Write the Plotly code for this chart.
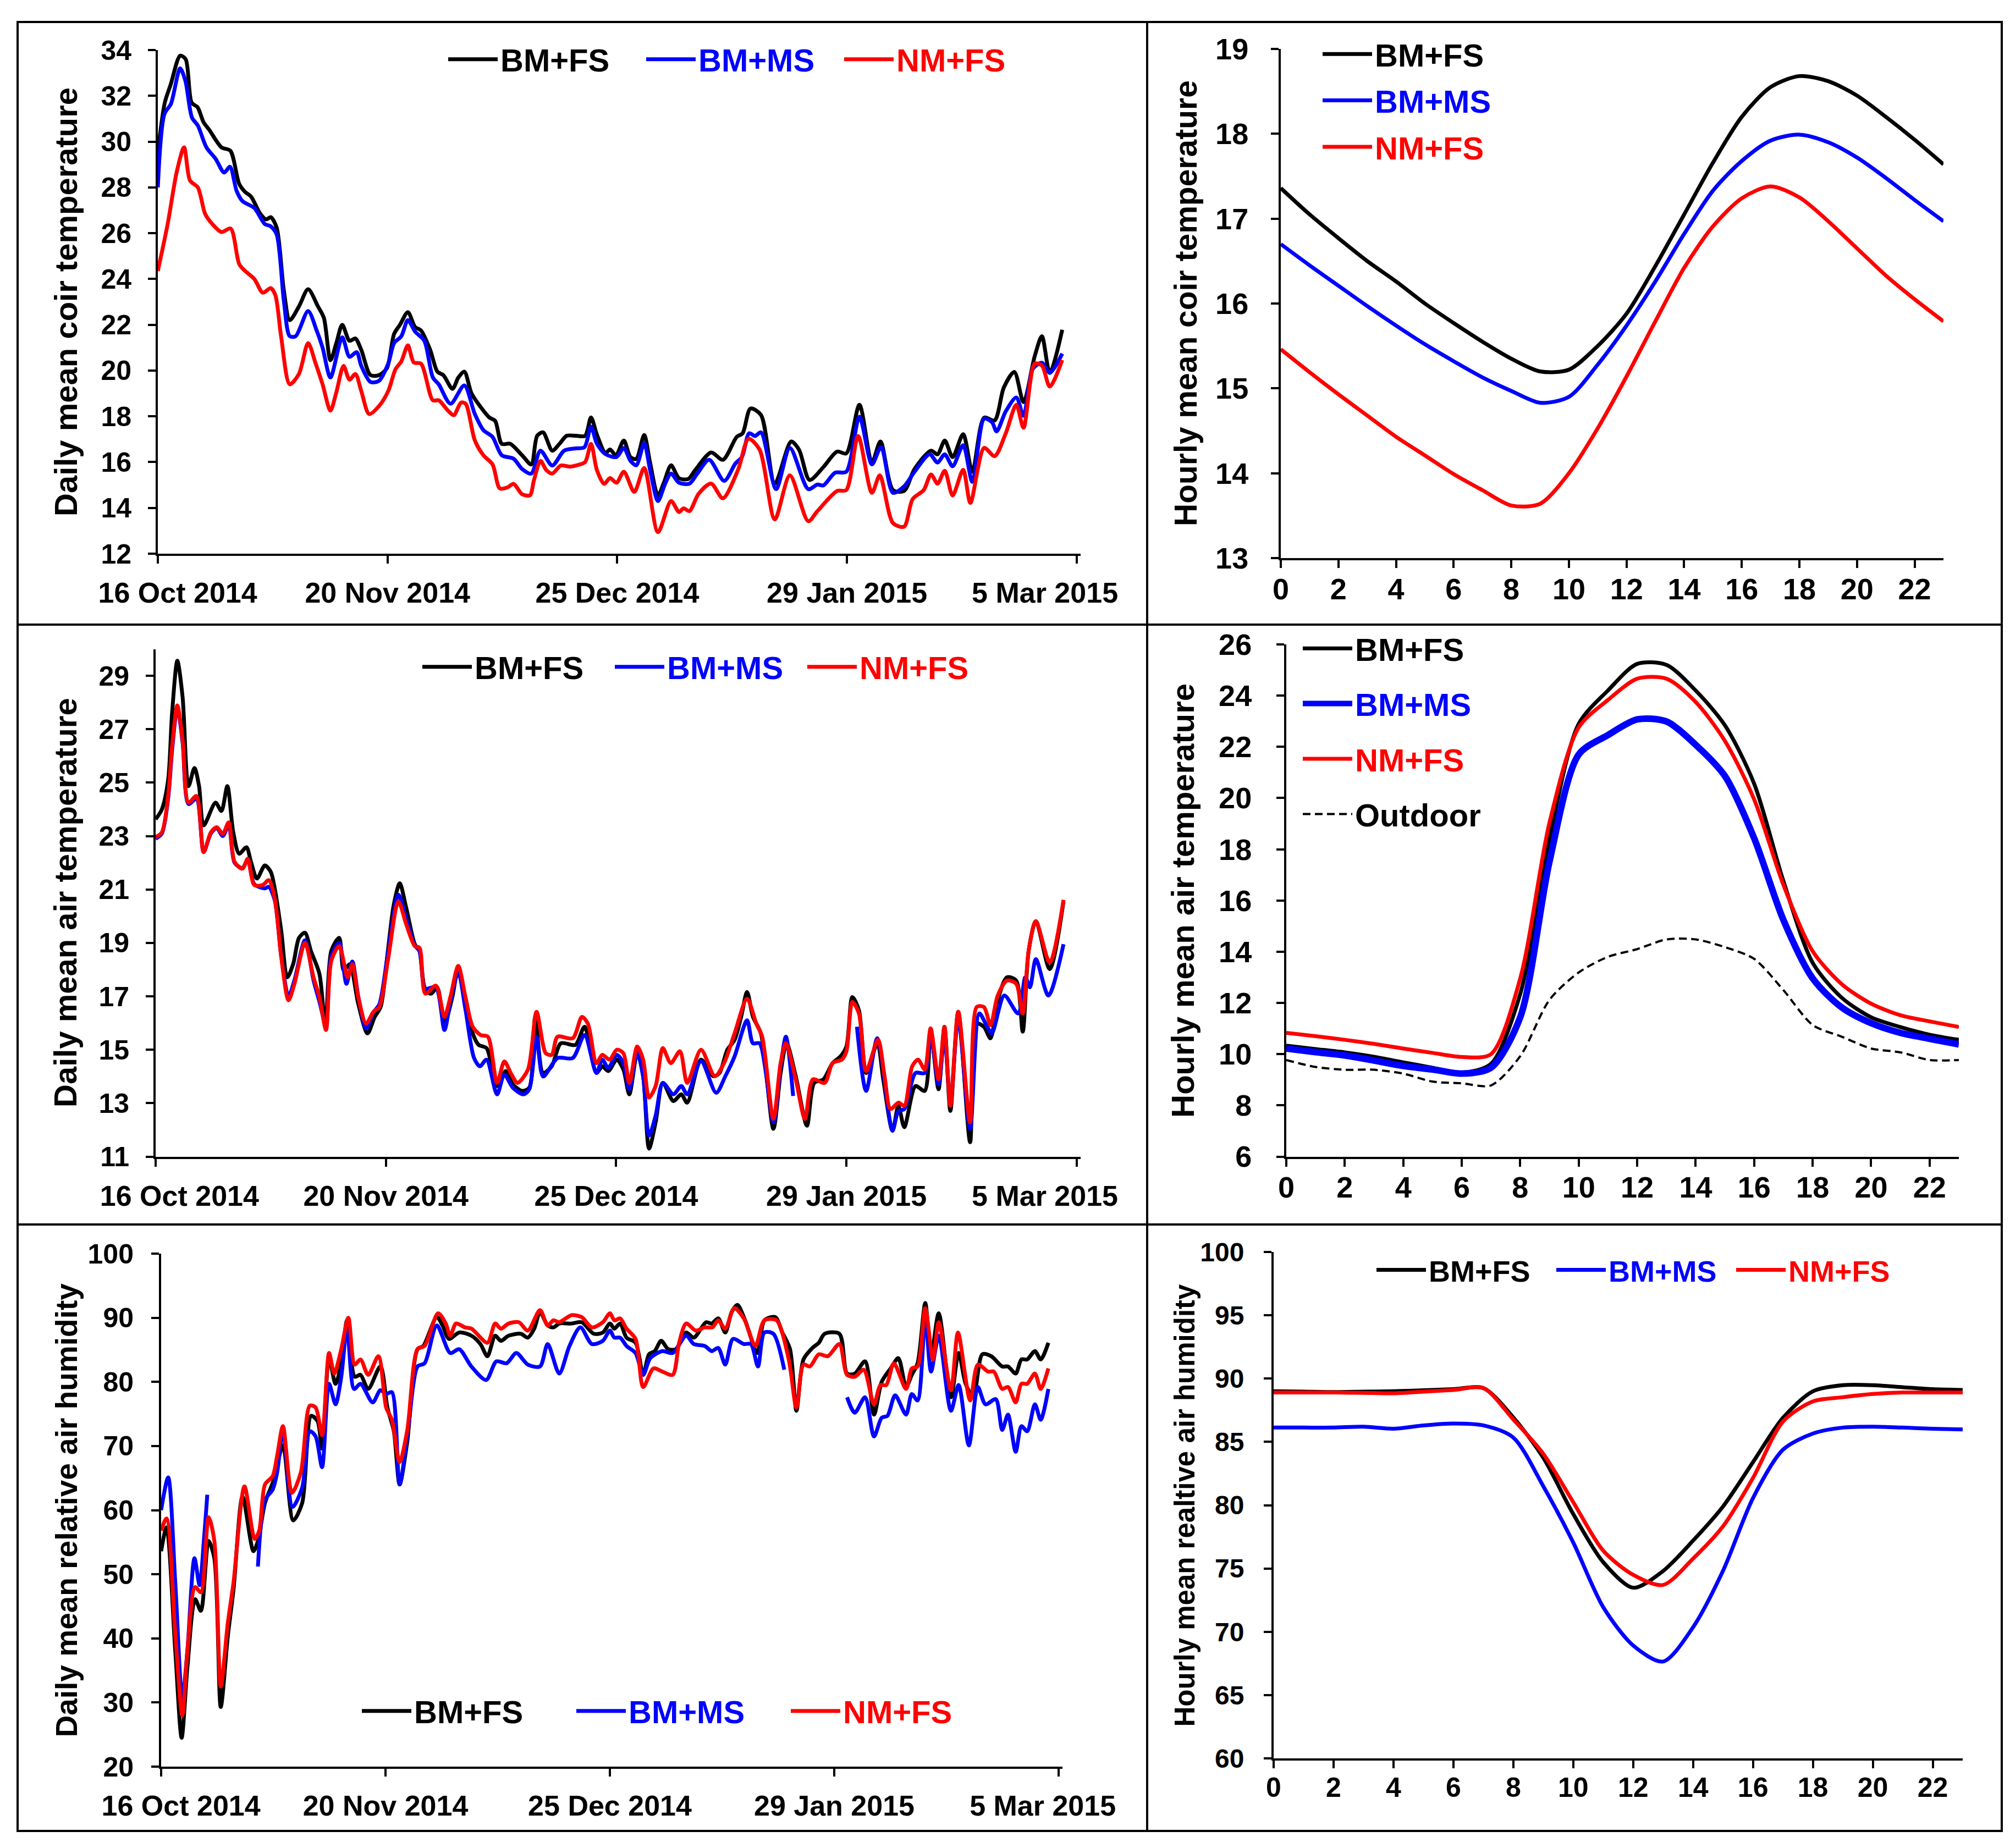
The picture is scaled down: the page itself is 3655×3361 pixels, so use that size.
import plotly.graph_objects as go
import pandas as pd

W, H = 3655, 3361
FONT = "Liberation Sans, Arial, Helvetica, sans-serif"
BLACK, BLUE, RED = "#000000", "#0000FF", "#FF0000"
NB = "\u00a0"

# ---------------- tick labels / categories ----------------
START_DATE = "2014-10-16"
date_tick_vals = ["2014-10-16", "2014-11-20", "2014-12-25", "2015-01-29", "2015-03-05"]
date_tick_text = ["16 Oct 2014", "20 Nov 2014", "25 Dec 2014", "29 Jan 2015", "5 Mar 2015"]
hours = list(range(24))
hour_tick_vals = list(range(0, 23, 2))
names = ["BM+FS", "BM+MS", "NM+FS"]

# ---------------- daily mean coir temperature (day offset from 16 Oct 2014) ----------------
coir_bmfs_days = [0, 1.06, 1.97, 3.4, 4.24, 5.15, 6.06, 6.96, 7.87, 9.69, 11.05, 12.4, 13.3, 14.2, 15.6, 16.5, 17.2, 18.1, 19.2, 20.1, 21.5, 22.9, 24.4, 25.3, 26.3, 27.2, 28.1, 29.2, 30.1, 31.0, 32.4, 33.7, 34.9, 36.0, 36.9, 38.1, 39.2, 40.1, 41.5, 42.6, 43.5, 44.9, 45.8, 46.7, 47.8, 49.2, 50.5, 51.4, 52.4, 53.7, 55.5, 56.9, 57.8, 58.7, 60.1, 61.2, 62.3, 63.7, 65.1, 66.0, 66.9, 68.2, 68.9, 69.8, 71, 72, 72.9, 74.1, 75, 76.2, 77.1, 78.2, 79.4, 80.8, 81.9, 84.3, 86.1, 88.2, 89.1, 90.3, 91.9, 94, 96.5, 97.7, 99.3, 101.4, 103.5, 104.9, 106.9, 108.8, 110.1, 112, 113.7, 115.3, 117.8, 118.8, 119.9, 121.1, 122.7, 124.1, 125.9, 127.5, 128.9, 130.5, 131.9, 133.6, 134.7, 135.9, 137.8]
coir_bmfs = [29.5, 31.7, 32.5, 33.75, 33.6, 31.7, 31.5, 30.85, 30.5, 29.75, 29.6, 28.15, 27.8, 27.6, 26.85, 26.6, 26.7, 26.25, 23.5, 22.2, 22.8, 23.55, 22.8, 22.3, 20.45, 21.2, 22.0, 21.3, 21.4, 20.9, 19.8, 19.8, 20.1, 21.6, 22.0, 22.55, 21.9, 21.75, 20.9, 19.95, 19.8, 19.2, 19.7, 19.95, 19.0, 18.4, 17.95, 17.8, 16.8, 16.8, 16.3, 15.9, 17.15, 17.3, 16.5, 16.8, 17.15, 17.15, 17.15, 17.95, 17.2, 16.4, 16.55, 16.3, 16.94, 16.22, 16.14, 17.18, 15.98, 14.54, 15.1, 15.86, 15.3, 15.26, 15.66, 16.42, 16.1, 17.1, 17.26, 18.34, 18.06, 15.06, 16.9, 16.54, 15.22, 15.78, 16.46, 16.38, 18.5, 15.98, 16.9, 14.78, 14.74, 15.7, 16.5, 16.34, 16.94, 16.22, 17.22, 15.58, 17.94, 17.82, 19.26, 19.94, 18.62, 20.62, 21.5, 19.9, 21.78]

coir_bmms_days = [0, 1, 2, 3.4, 4.2, 5.2, 6.1, 7.4, 8.8, 10.1, 11, 12, 12.9, 14.7, 16.3, 17.2, 18.1, 19.2, 20.1, 21, 22.9, 24.2, 25.1, 26.3, 28.1, 29.2, 30.3, 31, 32.4, 33.7, 35.1, 36, 37.1, 38.1, 39.2, 40.6, 41.9, 42.8, 44.6, 46.7, 48.3, 49.6, 51, 52.4, 54.2, 55.5, 56.9, 58.3, 60.1, 61.9, 63.7, 65, 66, 66.9, 68.2, 69.9, 71, 72, 72.9, 74.1, 75, 76.2, 77.3, 78.2, 79.4, 81, 82.2, 84, 86.3, 88, 89, 90.1, 91, 91.9, 94.2, 96.3, 99.1, 100.5, 101.4, 103.2, 104.9, 106.9, 108.8, 110.2, 112, 113.7, 115.3, 117.6, 118.8, 119.9, 121.1, 122.7, 124.1, 125.9, 127.1, 127.8, 129.2, 130.8, 131.9, 133.3, 134.7, 135.9, 137.8]
coir_bmms = [28.0, 31.2, 31.65, 33.2, 32.65, 31.05, 30.7, 29.75, 29.25, 28.65, 28.9, 27.85, 27.4, 27.1, 26.4, 26.3, 25.95, 23.05, 21.5, 21.5, 22.6, 21.75, 21.0, 19.7, 21.45, 20.6, 20.8, 20.2, 19.5, 19.55, 20.3, 21.2, 21.5, 22.2, 21.7, 21.3, 19.7, 19.4, 18.55, 19.35, 18.1, 17.4, 17.1, 16.3, 16.15, 15.7, 15.5, 16.5, 15.85, 16.5, 16.6, 16.65, 17.55, 16.8, 16.35, 16.22, 16.62, 16.06, 15.86, 16.82, 15.66, 14.3, 15.06, 15.5, 15.1, 15.06, 15.5, 16.1, 15.18, 15.94, 16.22, 17.26, 17.14, 17.3, 14.82, 16.62, 14.82, 15.02, 14.98, 15.54, 15.58, 17.98, 15.9, 16.66, 14.66, 14.94, 15.58, 16.34, 15.98, 16.34, 15.82, 16.74, 15.14, 17.9, 17.74, 17.34, 18.22, 18.82, 18.02, 20.06, 20.34, 19.9, 20.74]

coir_nmfs_days = [0, 1.5, 2.9, 4, 4.9, 6.1, 7.2, 8.3, 9.7, 11.1, 12.4, 13.3, 14.7, 16, 17.2, 17.9, 18.8, 20.1, 21.5, 22.9, 24, 25.1, 26.3, 27.2, 28.3, 29.2, 30.1, 31, 32.2, 33.7, 35.1, 36.2, 37.1, 38.1, 39, 40.1, 41.9, 42.8, 44.2, 45.1, 46.2, 46.9, 48.3, 49.6, 51, 52.1, 53.3, 54.2, 55.5, 56.7, 57.3, 58.3, 59.2, 60.1, 61.4, 62.8, 63.7, 65.1, 66, 66.9, 68, 68.9, 69.9, 71, 72.6, 74.1, 76.2, 78.2, 79.4, 80.1, 81, 82.4, 84.3, 86.1, 88.4, 90, 91.7, 94, 96.3, 99.1, 100.5, 103.5, 104.9, 106.7, 108.8, 110, 112, 113.7, 115, 116.7, 117.8, 118.8, 119.9, 121.1, 122.7, 123.8, 125.9, 127.5, 129.2, 130.8, 131.9, 133.6, 134.7, 135.9, 137.8]
coir_nmfs = [24.35, 26.4, 28.7, 29.75, 28.3, 28.0, 26.85, 26.4, 26.05, 26.2, 24.65, 24.35, 24.0, 23.4, 23.6, 23.3, 21.45, 19.4, 19.85, 21.2, 20.35, 19.4, 18.25, 19.05, 20.2, 19.6, 19.85, 19.1, 18.1, 18.45, 19.1, 20.05, 20.4, 21.1, 20.35, 20.3, 18.7, 18.7, 18.25, 18.05, 18.6, 18.55, 16.95, 16.3, 15.9, 14.85, 14.9, 15.05, 14.6, 14.55, 15.2, 16.05, 15.65, 15.5, 15.85, 15.8, 15.85, 16.0, 16.8, 15.65, 15.05, 15.3, 15.1, 15.58, 14.7, 15.74, 12.94, 14.3, 13.82, 13.98, 13.86, 14.62, 15.06, 14.42, 15.66, 17.02, 16.54, 13.5, 15.42, 13.42, 13.86, 14.74, 14.78, 17.14, 14.66, 15.42, 13.34, 13.18, 14.38, 14.78, 15.46, 15.06, 15.62, 14.54, 15.66, 14.22, 16.62, 16.26, 17.26, 18.5, 17.5, 20.3, 20.22, 19.3, 20.46]

# ---------------- hourly mean coir temperature ----------------
coir_hour_bmfs = [17.36, 17.05, 16.77, 16.5, 16.26, 16.0, 15.77, 15.55, 15.35, 15.2, 15.22, 15.5, 15.88, 16.44, 17.05, 17.66, 18.2, 18.55, 18.68, 18.62, 18.45, 18.2, 17.93, 17.64]
coir_hour_bmms = [16.7, 16.45, 16.21, 15.97, 15.74, 15.52, 15.32, 15.13, 14.97, 14.83, 14.9, 15.28, 15.74, 16.26, 16.82, 17.33, 17.68, 17.92, 17.99, 17.9, 17.72, 17.48, 17.22, 16.97]
coir_hour_nmfs = [15.46, 15.19, 14.93, 14.68, 14.43, 14.21, 13.99, 13.8, 13.62, 13.64, 14.0, 14.53, 15.14, 15.79, 16.42, 16.91, 17.24, 17.38, 17.25, 16.97, 16.65, 16.33, 16.05, 15.79]

# ---------------- daily mean air temperature ----------------
air_bmfs_days = [0, 0.95, 1.9, 2.5, 3.3, 4.1, 5, 5.9, 6.6, 7.3, 9.1, 10, 10.9, 11.8, 12.7, 13.8, 14.5, 15.4, 16.6, 17.5, 18.1, 19.1, 20, 20.9, 21.8, 22.7, 23.6, 24.9, 25.8, 26.7, 27.9, 28.6, 29.5, 30.8, 32.2, 33.3, 34.2, 35.3, 36.2, 37.1, 38.1, 39.4, 40.1, 41, 41.9, 42.8, 43.9, 45.1, 46, 47.1, 48.2, 49.1, 50.3, 51.9, 53.2, 54.3, 55.7, 56.8, 57.7, 58.9, 60.2, 61.6, 63.8, 65.2, 67, 67.9, 68.8, 70.1, 71.1, 72, 73.2, 74.1, 75, 76, 77.1, 78.7, 79.9, 80.8, 82.9, 84.8, 85.7, 86.9, 88, 89, 89.9, 90.8, 92, 93.9, 95, 95.9, 97.3, 99, 100.1, 101.5, 102.9, 104.1, 105, 105.9, 106.9, 108, 109.7, 110.6, 112, 112.9, 113.8, 115.5, 116.9, 117.8, 119, 119.9, 120.8, 122, 123.8, 124.8, 125.9, 126.9, 128, 129.4, 130.8, 131.8, 132.7, 133.8, 135.9, 138]
air_bmfs = [23.63, 24.0, 25.1, 27.6, 29.56, 28.2, 24.87, 25.55, 24.87, 23.4, 24.25, 23.94, 24.87, 23.14, 22.34, 22.58, 22.03, 21.41, 21.9, 21.66, 21.04, 19.44, 17.71, 18.2, 19.19, 19.38, 18.7, 17.84, 15.86, 18.7, 19.19, 17.96, 18.2, 16.72, 15.61, 16.23, 16.6, 18.7, 20.43, 21.23, 20.3, 18.95, 18.7, 17.22, 17.1, 17.34, 15.99, 16.97, 18.08, 16.85, 15.61, 15.18, 15.06, 13.64, 14.2, 13.7, 13.46, 13.58, 16.23, 14.13, 14.38, 15.24, 15.18, 15.86, 14.13, 14.38, 14.2, 14.63, 14.26, 13.33, 14.87, 14.01, 11.3, 12.28, 13.76, 13.08, 13.33, 13.02, 14.63, 14.01, 14.13, 15.0, 15.37, 16.23, 17.16, 16.23, 15.61, 12.04, 14.13, 15.24, 14.01, 12.16, 13.76, 13.89, 14.5, 14.75, 15.12, 16.97, 16.48, 14.13, 15.24, 13.89, 11.97, 12.9, 12.1, 13.64, 13.46, 15.68, 13.52, 15.86, 12.71, 16.42, 11.54, 15.98, 15.86, 15.43, 16.85, 17.71, 17.59, 15.68, 18.7, 19.81, 18.02, 20.55]

air_bmms_days = [0, 0.95, 1.9, 2.5, 3.3, 4.1, 5, 6.2, 7.3, 8.4, 9.3, 10.2, 11.1, 12, 13.2, 14, 15, 16.6, 17.2, 18.1, 19.1, 20.2, 21.1, 22.7, 24, 24.9, 25.9, 26.7, 27.9, 29, 29.9, 30.8, 32, 33.1, 34, 35.3, 36.9, 38.1, 39.4, 40.1, 41, 42.6, 43.9, 44.8, 46, 47.1, 48.4, 49.3, 50.3, 51.9, 53, 54.3, 55.9, 56.8, 57.9, 58.9, 61.1, 63.4, 65.2, 67, 67.9, 68.8, 70.1, 71.1, 72, 73.2, 74.1, 75, 76, 77.1, 78.7, 79.9, 80.8, 82.9, 85.2, 86.6, 88, 89.9, 90.8, 91.8, 93.9, 95, 95.8, 96.9, None, 106.6, 108, 109.7, 112, 112.9, 113.8, 115.5, 116.9, 117.8, 119, 119.9, 120.8, 122, 123.8, 125.2, 126.4, 127.1, 129, 131.1, 132.2, 132.9, 133.8, 135.7, 138]
air_bmms = [22.9, 23.1, 24.4, 26.2, 27.8, 26.5, 24.2, 24.4, 22.4, 23.1, 23.3, 23.0, 23.4, 22.0, 21.8, 22.1, 21.2, 21.04, 21.1, 20.6, 18.5, 17.0, 17.6, 19.1, 17.6, 16.8, 15.9, 18.5, 19.0, 17.47, 18.3, 17.0, 15.8, 16.4, 16.7, 18.6, 20.8, 19.9, 18.9, 18.7, 17.3, 17.34, 15.74, 16.8, 17.9, 16.5, 14.69, 14.38, 14.63, 13.33, 14.07, 13.58, 13.33, 13.52, 15.49, 14.0, 14.69, 14.69, 15.55, 14.13, 14.63, 14.32, 14.81, 14.5, 13.52, 14.94, 14.01, 11.79, 12.53, 13.76, 13.33, 13.64, 13.33, 14.57, 13.39, 14.01, 14.75, 16.1, 15.24, 15.24, 12.28, 14.38, 15.49, 13.27, None, 15.86, 13.46, 15.43, 11.97, 12.7, 12.78, 14.13, 14.13, 15.61, 13.7, 15.49, 13.02, 16.17, 12.04, 16.36, 15.86, 15.61, 17.03, 16.36, 17.71, 17.34, 18.39, 17.03, 18.95]

air_nmfs_days = [0, 0.95, 1.9, 2.5, 3.3, 4.1, 5, 6.2, 7.3, 8.4, 9.3, 10.2, 11.1, 12, 13.2, 14, 15, 16.3, 17.2, 18.1, 19.1, 20.2, 21.1, 22.7, 24, 24.9, 25.9, 26.7, 27.9, 29.2, 29.9, 30.8, 32, 33.1, 34, 35.3, 36.9, 38.1, 39.4, 40.1, 41, 42.6, 43.9, 44.8, 46, 47.1, 48.2, 49.4, 50.5, 51.9, 53, 54.1, 55, 56.6, 57.9, 59.3, 60.2, 61.1, 63.4, 64.8, 65.7, 67, 67.9, 69, 70.1, 71.1, 72, 73.2, 74.1, 75, 76, 77.1, 78.3, 79.7, 80.8, 82.9, 85, 86.4, 88, 89.9, 91.3, 92.2, 93.9, 95, 95.8, 97.3, 98.7, 99.9, 101.7, 102.9, 104.3, 105, 105.9, 106.9, 108, 109.8, 110.8, 111.7, 112.9, 113.8, 115, 115.9, 116.9, 117.8, 119, 119.9, 120.8, 122, 123.8, 124.8, 125.9, 126.9, 128, 129.4, 130.8, 131.8, 132.7, 133.8, 135.9, 138]
air_nmfs = [22.96, 23.14, 24.5, 26.35, 27.89, 26.6, 24.25, 24.5, 22.4, 23.14, 23.33, 23.08, 23.51, 22.03, 21.78, 22.15, 21.17, 21.17, 21.35, 20.67, 18.45, 16.85, 17.47, 19.0, 17.71, 16.97, 15.74, 18.33, 18.88, 17.71, 18.2, 16.97, 15.98, 16.42, 16.6, 18.33, 20.55, 19.69, 18.88, 18.82, 17.1, 17.4, 16.23, 16.97, 18.14, 16.97, 15.86, 15.55, 15.49, 13.76, 14.56, 14.07, 13.76, 14.26, 16.42, 14.87, 14.81, 15.49, 15.43, 16.23, 15.98, 14.5, 14.81, 14.63, 15.0, 14.87, 13.76, 15.12, 14.63, 13.21, 13.64, 15.06, 14.5, 14.94, 13.76, 15.0, 14.01, 14.5, 15.61, 16.91, 15.98, 15.49, 12.41, 14.5, 15.24, 13.89, 12.41, 13.89, 13.76, 14.5, 14.63, 14.94, 16.79, 16.36, 14.2, 15.37, 14.01, 12.78, 13.02, 12.9, 14.38, 14.63, 14.26, 15.8, 13.89, 15.86, 12.9, 16.42, 12.28, 16.6, 16.6, 15.92, 17.03, 17.59, 17.47, 16.36, 18.7, 19.81, 18.27, 20.61]

# ---------------- hourly mean air temperature ----------------
air_hour_bmfs = [10.33, 10.2, 10.07, 9.9, 9.68, 9.47, 9.28, 9.62, 12.35, 18.43, 22.9, 24.2, 25.24, 25.2, 24.2, 22.84, 20.56, 16.76, 13.57, 12.2, 11.44, 11.06, 10.76, 10.56]
air_hour_bmms = [10.22, 10.08, 9.95, 9.75, 9.54, 9.4, 9.24, 9.47, 11.44, 17.52, 21.7, 22.46, 23.07, 22.99, 22.08, 20.86, 18.43, 15.24, 12.96, 11.82, 11.21, 10.83, 10.6, 10.38]
air_hour_nmfs = [10.83, 10.7, 10.56, 10.4, 10.22, 10.05, 9.89, 10.0, 12.96, 19.04, 22.76, 23.83, 24.66, 24.66, 23.75, 22.23, 19.95, 16.61, 14.02, 12.73, 11.97, 11.52, 11.28, 11.06]
air_hour_outdoor = [9.77, 9.5, 9.39, 9.39, 9.24, 8.93, 8.86, 8.78, 9.92, 12.12, 13.19, 13.8, 14.1, 14.48, 14.48, 14.18, 13.72, 12.5, 11.14, 10.68, 10.22, 10.07, 9.77, 9.77]

# ---------------- daily mean relative air humidity ----------------
rh_bmfs_days = [0, 0.84, 2.2, 3.2, 4.1, 5.3, 6.2, 7.4, 8.3, 9.3, 10.4, 11.3, 12.7, 14.4, 15.1, 16.2, 17.6, 19, 20.6, 22, 23.4, 24.4, 25.1, 26.2, 27.2, 28.1, 29, 30.2, 31.1, 32.3, 34.2, 35.3, 36.3, 37.2, 38.4, 40, 40.9, 43, 43.9, 44.9, 46.5, 48.4, 49.8, 50.9, 52.1, 53, 54.2, 56.1, 57.2, 58.2, 59.1, 60.3, 61.2, 62.1, 64, 65.6, 67.5, 68.9, 70, 70.7, 71.6, 72.6, 74, 75.2, 76.1, 77, 78, 79.1, 80.3, 81.9, 83.1, 85, 85.9, 86.9, 88, 89, 89.9, 91.1, 93, 94.1, 95.8, 96.9, 98.1, 99.1, 100.2, 101.6, 102.6, 103.5, 105.8, 107, 108.2, 109.8, 111.2, 112.4, 113.8, 115, 116.2, 117.1, 118, 119.2, 120.1, 121.3, 123.2, 124.4, 125.5, 126.7, 128.1, 129.5, 131.2, 132.1, 133.3, 134.2, 135.1, 136.3, 137.2, 138.4]
rh_bmfs = [53.6, 57.3, 38.1, 24.5, 35.5, 46.1, 44.3, 55.2, 52.5, 29.3, 40.3, 47.7, 62.1, 53.6, 55.2, 61.1, 64.8, 70.1, 58.4, 61.1, 74.7, 73.9, 69.6, 83.7, 79.7, 82.9, 89.6, 80.8, 81.1, 78.9, 82.4, 76.0, 72.3, 64.0, 70.7, 85.1, 85.6, 90.1, 88.8, 86.7, 87.7, 87.2, 85.9, 84.0, 87.2, 86.4, 87.2, 87.5, 86.9, 88.3, 90.9, 88.8, 88.5, 89.1, 89.1, 89.3, 87.5, 87.7, 89.1, 88.3, 89.1, 86.9, 86.1, 81.1, 84.3, 84.8, 86.4, 85.1, 85.1, 87.7, 86.9, 89.3, 89.1, 89.9, 87.7, 90.9, 92.0, 89.6, 84.5, 89.6, 90.1, 87.7, 85.1, 75.5, 83.5, 85.3, 86.1, 87.5, 87.5, 81.3, 81.3, 83.2, 74.9, 80.0, 82.1, 83.7, 79.2, 81.1, 82.9, 92.3, 84.0, 90.7, 77.6, 84.5, 79.7, 77.6, 84.3, 84.0, 82.4, 82.4, 81.3, 83.5, 83.5, 84.8, 83.5, 86.1]

rh_bmms_days = [0, 1.1, 2.2, 3.3, 4.1, 5.2, 6, 6.7, 7.2, None, 15.1, 16.2, 17.4, 18.1, 19, 20.5, 22, 23.2, 24.1, 25.1, 26.2, 27.2, 28.1, 29, 30.1, 31.1, 33, 34.2, 35.1, 36, 37.2, 38.6, 40, 41.1, 43, 45.1, 46.5, 48.4, 50.7, 52.3, 53.9, 55.4, 57.2, 59.1, 60.3, 62.1, 63.7, 65.4, 67.2, 68.9, 70, 70.7, 71.6, 72.6, 74, 75.2, 76.3, 78.2, 79.8, 81.9, 83.1, 84.8, 85.9, 86.9, 88, 89.2, 90.9, 92, 93.1, 94.1, 95.5, 97.2, None, 107, 108.2, 109.8, 111.2, 112.4, 113.3, 114.5, 116.2, 117.1, 118, 119.2, 120.1, 121.3, 123.2, 124.4, 126, 127.4, 128.6, 130.2, 131.2, 132.1, 133.3, 134.2, 135.1, 136.3, 137.2, 138.4]
rh_bmms = [60.0, 65.1, 48.8, 30.7, 38.1, 52.5, 48.3, 55.7, 62.4, None, 51.2, 61.6, 63.2, 65.9, 72.5, 60.5, 63.5, 72.3, 71.5, 66.7, 79.7, 76.5, 80.8, 88.5, 78.9, 79.7, 76.8, 78.7, 78.1, 78.4, 64.0, 73.3, 82.4, 82.9, 88.8, 84.5, 85.1, 82.4, 80.3, 83.2, 82.9, 84.5, 82.7, 82.4, 85.9, 81.3, 85.6, 88.5, 85.9, 86.4, 88.0, 86.9, 86.9, 85.6, 84.5, 81.1, 83.7, 84.8, 84.5, 87.2, 85.9, 85.6, 84.8, 85.3, 82.7, 86.7, 85.9, 85.9, 82.4, 87.7, 87.5, 81.9, None, 77.6, 75.2, 77.6, 71.5, 74.4, 74.7, 77.9, 74.9, 78.1, 77.1, 89.9, 81.6, 87.2, 75.5, 79.5, 70.1, 79.2, 76.5, 77.3, 72.5, 74.9, 69.1, 73.1, 72.3, 76.5, 74.1, 78.9]

rh_nmfs_days = [0, 0.84, 2.2, 3.3, 4.1, 5.3, 6.2, 7.4, 8.3, 9.3, 10.4, 11.3, 13, 14.6, 15.3, 16.2, 17.4, 18.1, 19, 20.4, 21.8, 23.2, 24.1, 25.1, 26.2, 27, 28.1, 29.2, 30.2, 31.1, 32.3, 33.9, 35.1, 36, 37.2, 38.4, 40, 41.1, 43.2, 44.4, 45.1, 46, 47.4, 48.4, 50.9, 52.1, 53, 54.2, 55.8, 57.2, 59.1, 60.3, 61.2, 62.1, 64, 65.6, 67.2, 68.9, 70, 70.7, 71.6, 72.6, 74, 75.2, 76.8, 78.2, 79.8, 80.8, 81.9, 83.4, 84.8, 86, 86.9, 88, 89.4, 90.9, 92.7, 94.1, 96, 97.9, 99.1, 100.2, 101.2, 102.6, 104, 105.8, 107, 108.2, 109.6, 111.2, 112.2, 113.1, 114.3, 116.2, 117.1, 118, 119.2, 120.4, 121.3, 123.2, 124.3, 126.2, 127.4, 129, 129.9, 131.2, 132.1, 133.3, 134.2, 135.1, 136.3, 137.2, 138.4]
rh_nmfs = [56.8, 58.7, 40.8, 28.0, 38.1, 48.0, 47.2, 58.9, 55.2, 32.5, 42.4, 48.8, 63.7, 55.5, 56.8, 64.0, 65.3, 68.5, 73.1, 62.7, 65.9, 76.3, 76.0, 71.7, 84.5, 81.3, 85.1, 90.0, 82.7, 83.5, 81.1, 84.0, 76.0, 74.1, 67.5, 72.5, 85.1, 85.6, 90.7, 89.1, 87.2, 89.1, 88.5, 88.3, 86.1, 89.1, 88.3, 89.1, 89.3, 88.0, 91.2, 88.8, 89.6, 89.3, 90.4, 90.1, 88.5, 89.3, 90.7, 89.6, 89.9, 88.3, 86.7, 79.2, 82.1, 81.6, 81.1, 86.1, 89.1, 88.0, 88.5, 88.5, 89.6, 88.3, 91.5, 89.9, 85.6, 89.6, 89.6, 83.5, 76.0, 82.7, 82.4, 84.3, 84.0, 85.9, 81.1, 80.8, 81.9, 76.5, 79.5, 79.5, 82.9, 78.9, 82.1, 82.4, 91.5, 83.5, 89.3, 78.7, 87.7, 77.1, 82.7, 81.6, 81.6, 78.9, 79.2, 76.8, 79.7, 79.7, 81.3, 78.9, 82.1]

# ---------------- hourly mean relative air humidity ----------------
rh_hour_bmfs = [89.0, 88.97, 88.94, 88.97, 89.0, 89.08, 89.16, 89.25, 86.93, 83.75, 79.3, 75.5, 73.48, 74.8, 77.2, 79.9, 83.4, 86.9, 89.0, 89.48, 89.48, 89.32, 89.16, 89.1]
rh_hour_bmms = [86.13, 86.13, 86.13, 86.2, 86.04, 86.3, 86.45, 86.3, 85.34, 81.5, 77.05, 71.95, 68.92, 67.65, 70.36, 74.82, 80.56, 84.38, 85.66, 86.13, 86.2, 86.13, 86.04, 85.98]
rh_hour_nmfs = [88.9, 88.9, 88.9, 88.87, 88.84, 88.97, 89.1, 89.25, 86.77, 84.06, 80.24, 76.41, 74.5, 73.7, 75.78, 78.33, 82.15, 86.6, 88.2, 88.53, 88.78, 88.9, 88.9, 88.9]

# =====================================================================
base = pd.Timestamp(START_DATE)


def to_dates(days):
    return [None if d is None else (base + pd.Timedelta(days=d)).strftime("%Y-%m-%d %H:%M") for d in days]


def fx(p):
    return p / W


def fy(p):
    return 1 - p / H


def lname(name, color):
    return '<span style="color:%s">%s</span>' % (color, name)


def padded_dates(lead, trail):
    # the outer date labels sit inward of their ticks, as in the original
    t = list(date_tick_text)
    t[0] = NB * lead + t[0]
    t[-1] = t[-1] + NB * trail
    return t


fig = go.Figure()


def add(xs, ys, color, name, xa, ya, legend, width=7, dash=None, group=None):
    fig.add_trace(go.Scatter(
        x=xs, y=ys, mode="lines", name=lname(name, color),
        line=dict(color=color, width=width, shape="spline", smoothing=0.8, dash=dash),
        xaxis=xa, yaxis=ya, legend=legend, legendgroup=group, hoverinfo="skip"))


COLORS = [BLACK, BLUE, RED]

# panel 1
for d, v, c, n in zip([coir_bmfs_days, coir_bmms_days, coir_nmfs_days], [coir_bmfs, coir_bmms, coir_nmfs], COLORS, names):
    add(to_dates(d), v, c, n, "x", "y", "legend")
# panel 2
for v, c, n, g in zip([coir_hour_bmfs, coir_hour_bmms, coir_hour_nmfs], COLORS, names, ["a2", "b2", "c2"]):
    add(hours, v, c, n, "x2", "y2", "legend2", group=g)
# panel 3
for d, v, c, n in zip([air_bmfs_days, air_bmms_days, air_nmfs_days], [air_bmfs, air_bmms, air_nmfs], COLORS, names):
    add(to_dates(d), v, c, n, "x3", "y3", "legend3")
# panel 4
for v, c, n, w, g in zip([air_hour_bmfs, air_hour_bmms, air_hour_nmfs], COLORS, names, [7, 12, 7], ["a4", "b4", "c4"]):
    add(hours, v, c, n, "x4", "y4", "legend4", width=w, group=g)
add(hours, air_hour_outdoor, BLACK, "Outdoor", "x4", "y4", "legend4", width=4, dash="14px,8px", group="d4")
# panel 5
for d, v, c, n in zip([rh_bmfs_days, rh_bmms_days, rh_nmfs_days], [rh_bmfs, rh_bmms, rh_nmfs], COLORS, names):
    add(to_dates(d), v, c, n, "x5", "y5", "legend5")
# panel 6
for v, c, n in zip([rh_hour_bmfs, rh_hour_bmms, rh_hour_nmfs], COLORS, names):
    add(hours, v, c, n, "x6", "y6", "legend6")


def tfont(size):
    return dict(family=FONT, size=size, color="black", weight="bold")


def ax_common(size, standoff):
    return dict(showline=True, linecolor="black", linewidth=4, ticks="outside", ticklen=14,
                tickwidth=4, tickcolor="black", showgrid=False, zeroline=False, automargin=False,
                tickfont=tfont(size), ticklabelstandoff=standoff, fixedrange=True)


date_end = (base + pd.Timedelta(days=140.6)).strftime("%Y-%m-%d %H:%M")


def date_axis(x0, x1, anchor, lead, trail):
    d = ax_common(52, 9)
    d.update(type="date", domain=[fx(x0), fx(x1)], anchor=anchor, range=[START_DATE, date_end],
             tickmode="array", tickvals=date_tick_vals, ticktext=padded_dates(lead, trail))
    return d


def hour_axis(x0, x1, anchor, size):
    d = ax_common(size, -8)
    d.update(domain=[fx(x0), fx(x1)], anchor=anchor, range=[0, 23], tickmode="array", tickvals=hour_tick_vals)
    return d


def y_axis(top, bottom, anchor, rng, dtick, size, standoff, first=None):
    d = ax_common(size, standoff)
    d.update(domain=[fy(bottom), fy(top)], anchor=anchor, range=rng, tick0=first if first is not None else rng[0], dtick=dtick)
    return d


def legend_h(x, y, entry, size=58):
    return dict(orientation="h", x=fx(x), y=fy(y), xanchor="left", yanchor="middle", xref="paper", yref="paper",
                font=tfont(size), itemwidth=90, entrywidth=entry, bgcolor="rgba(0,0,0,0)", borderwidth=0,
                itemclick=False, itemdoubleclick=False)


def legend_v(x, y, gap, size=58):
    return dict(orientation="v", x=fx(x), y=fy(y), xanchor="left", yanchor="top", xref="paper", yref="paper",
                font=tfont(size), itemwidth=90, tracegroupgap=gap, traceorder="grouped",
                bgcolor="rgba(0,0,0,0)", borderwidth=0, itemclick=False, itemdoubleclick=False)


fig.update_layout(
    template="none",
    width=W, height=H, autosize=False,
    margin=dict(l=0, r=0, t=0, b=0, autoexpand=False),
    paper_bgcolor="white", plot_bgcolor="white",
    font=dict(family=FONT, color="black"),
    xaxis=date_axis(279, 1957, "y", 5, 8),
    yaxis=y_axis(83, 999, "x", [12, 34], 2, 50, 20),
    xaxis2=hour_axis(2321, 3526, "y2", 54),
    yaxis2=y_axis(81, 1007, "x2", [13, 19], 1, 54, 30),
    xaxis3=date_axis(275, 1957, "y3", 6, 8),
    yaxis3=y_axis(1172.5, 2095.5, "x3", [11, 30], 2, 50, 20, first=11),
    xaxis4=hour_axis(2331, 3554, "y4", 54),
    yaxis4=y_axis(1164, 2095.5, "x4", [6, 26], 2, 54, 34),
    xaxis5=date_axis(285, 1924, "y5", 5, 4),
    yaxis5=y_axis(2272, 3205, "x5", [20, 100], 10, 50, 22),
    xaxis6=hour_axis(2308, 3561, "y6", 50),
    yaxis6=y_axis(2269, 3190, "x6", [60, 100], 5, 48, 26),
    legend=legend_h(802, 100, 255),
    legend2=legend_v(2392, 46, 6),
    legend3=legend_h(755, 1205, 245),
    legend4=legend_v(2356, 1127, 22),
    legend5=legend_h(645, 3104, 285),
    legend6=legend_h(2490, 2302, 222, size=54),
    showlegend=True,
)

# y-axis titles
titles = [
    ("Daily mean coir temperature", 112, (83 + 999) / 2, 58),
    ("Hourly mean coir temperature", 2148, (81 + 1007) / 2, 57),
    ("Daily mean air temperature", 110, (1172.5 + 2095.5) / 2, 58),
    ("Hourly mean air temperature", 2143, (1164 + 2095.5) / 2, 58),
    ("Daily mean relative air humidity", 112, (2272 + 3205) / 2, 55),
    ("Hourly mean realtive air humidity", 2146, (2269 + 3190) / 2, 51),
]
for text, x, y, s in titles:
    fig.add_annotation(text=text, x=fx(x), y=fy(y), xref="paper", yref="paper", showarrow=False,
                       textangle=-90, xanchor="center", yanchor="middle", font=tfont(s))

# panel frame lines
frame = dict(color="black", width=4)
fig.add_shape(type="rect", xref="paper", yref="paper", x0=fx(24), x1=fx(3632), y0=fy(3322), y1=fy(32), line=frame)
fig.add_shape(type="line", xref="paper", yref="paper", x0=fx(2078), x1=fx(2078), y0=fy(3322), y1=fy(32), line=frame)
fig.add_shape(type="line", xref="paper", yref="paper", x0=fx(24), x1=fx(3632), y0=fy(1128), y1=fy(1128), line=frame)
fig.add_shape(type="line", xref="paper", yref="paper", x0=fx(24), x1=fx(3632), y0=fy(2219), y1=fy(2219), line=frame)

fig.write_html("out.html")
